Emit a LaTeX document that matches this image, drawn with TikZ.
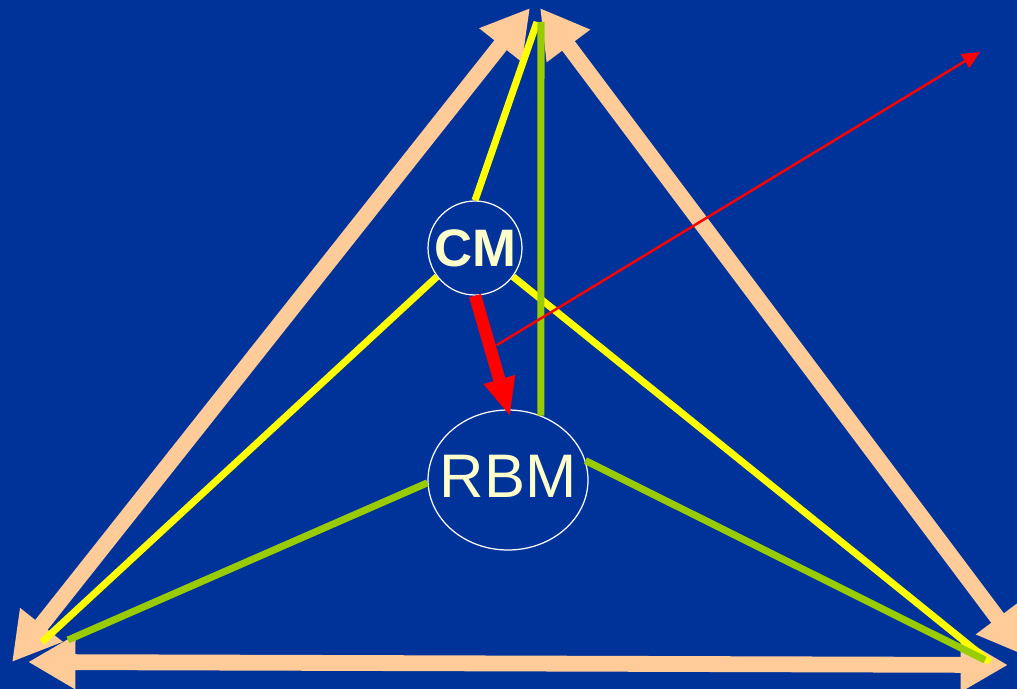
\documentclass[tikz,border=0pt]{standalone}
\usepackage{fontspec}
\usepackage{xcolor}
\usepackage{tikz}
\usetikzlibrary{arrows.meta, shapes.geometric}
\setmainfont{Liberation Sans}

\definecolor{bgblue}{HTML}{003399}
\definecolor{peach}{HTML}{FFCC99}
\definecolor{lemon}{HTML}{FFFF00}
\definecolor{lime}{HTML}{99CC00}
\definecolor{cream}{HTML}{FFFFCC}

\begin{document}
\begin{tikzpicture}[x=0.02cm, y=-0.02cm,
  body/.style={draw=white, line width=0.7pt, text=cream, inner sep=0pt},
  side/.style={{Triangle[length=27pt, width=29pt]}-{Triangle[length=27pt, width=29pt]}, line width=9pt, peach},
  yel/.style={line width=4pt, lemon},
  grn/.style={line width=4pt, lime},
  push/.style={-{Triangle[length=22pt, width=17pt]}, line width=7pt, red},
  ray/.style={-{Triangle[length=10pt, width=9pt]}, line width=1.4pt, red},
]
  % Background
  \fill[bgblue] (0,0) rectangle (1017,689);
  \useasboundingbox (0,0) rectangle (1017,689);

  % Corners of the triangle
  \coordinate (apexL) at (530,8);
  \coordinate (apexR) at (540,8);
  \coordinate (baseL) at (12,662);
  \coordinate (baseR) at (1026,656);
  \coordinate (bottomL) at (28,662);
  \coordinate (bottomR) at (1008,665);

  % Sides
  \draw[side] (baseL) -- (apexL);
  \draw[side] (apexR) -- (baseR);
  \draw[side] (bottomL) -- (bottomR);

  % Bodies
  \node[body, circle, minimum size=1.88cm, font=\bfseries\fontsize{30}{30}\selectfont] (cm) at (475,248) {CM};
  \node[body, ellipse, inner xsep=-0.26cm, minimum width=3.2cm, minimum height=2.8cm, font=\fontsize{35}{35}\selectfont] (rbm) at (508,480) {\raisebox{4pt}{RBM}};

  % Ends of the lines
  \coordinate (topY) at (537,22);
  \coordinate (topG) at (541,22);
  \coordinate (leftY) at (42,642);
  \coordinate (rightY) at (990,662);
  \coordinate (leftG) at (68,640);
  \coordinate (rightG) at (985,660);

  % Lines from CM
  \draw[yel] (cm.north) -- (topY);
  \draw[yel] (cm.217) -- (leftY);
  \draw[yel] (cm.323) -- (rightY);

  % Lines from RBM
  \draw[grn] (rbm.63) -- (topG);
  \draw[grn] (rbm.182) -- (leftG);
  \draw[grn] (rbm.14) -- (rightG);

  % Motion
  \draw[push, shorten >=-0.15cm] (cm.south) -- (rbm.north);
  \coordinate (rayS) at (497,345);
  \coordinate (rayE) at (980,52);
  \draw[ray] (rayS) -- (rayE);

\end{tikzpicture}
\end{document}
